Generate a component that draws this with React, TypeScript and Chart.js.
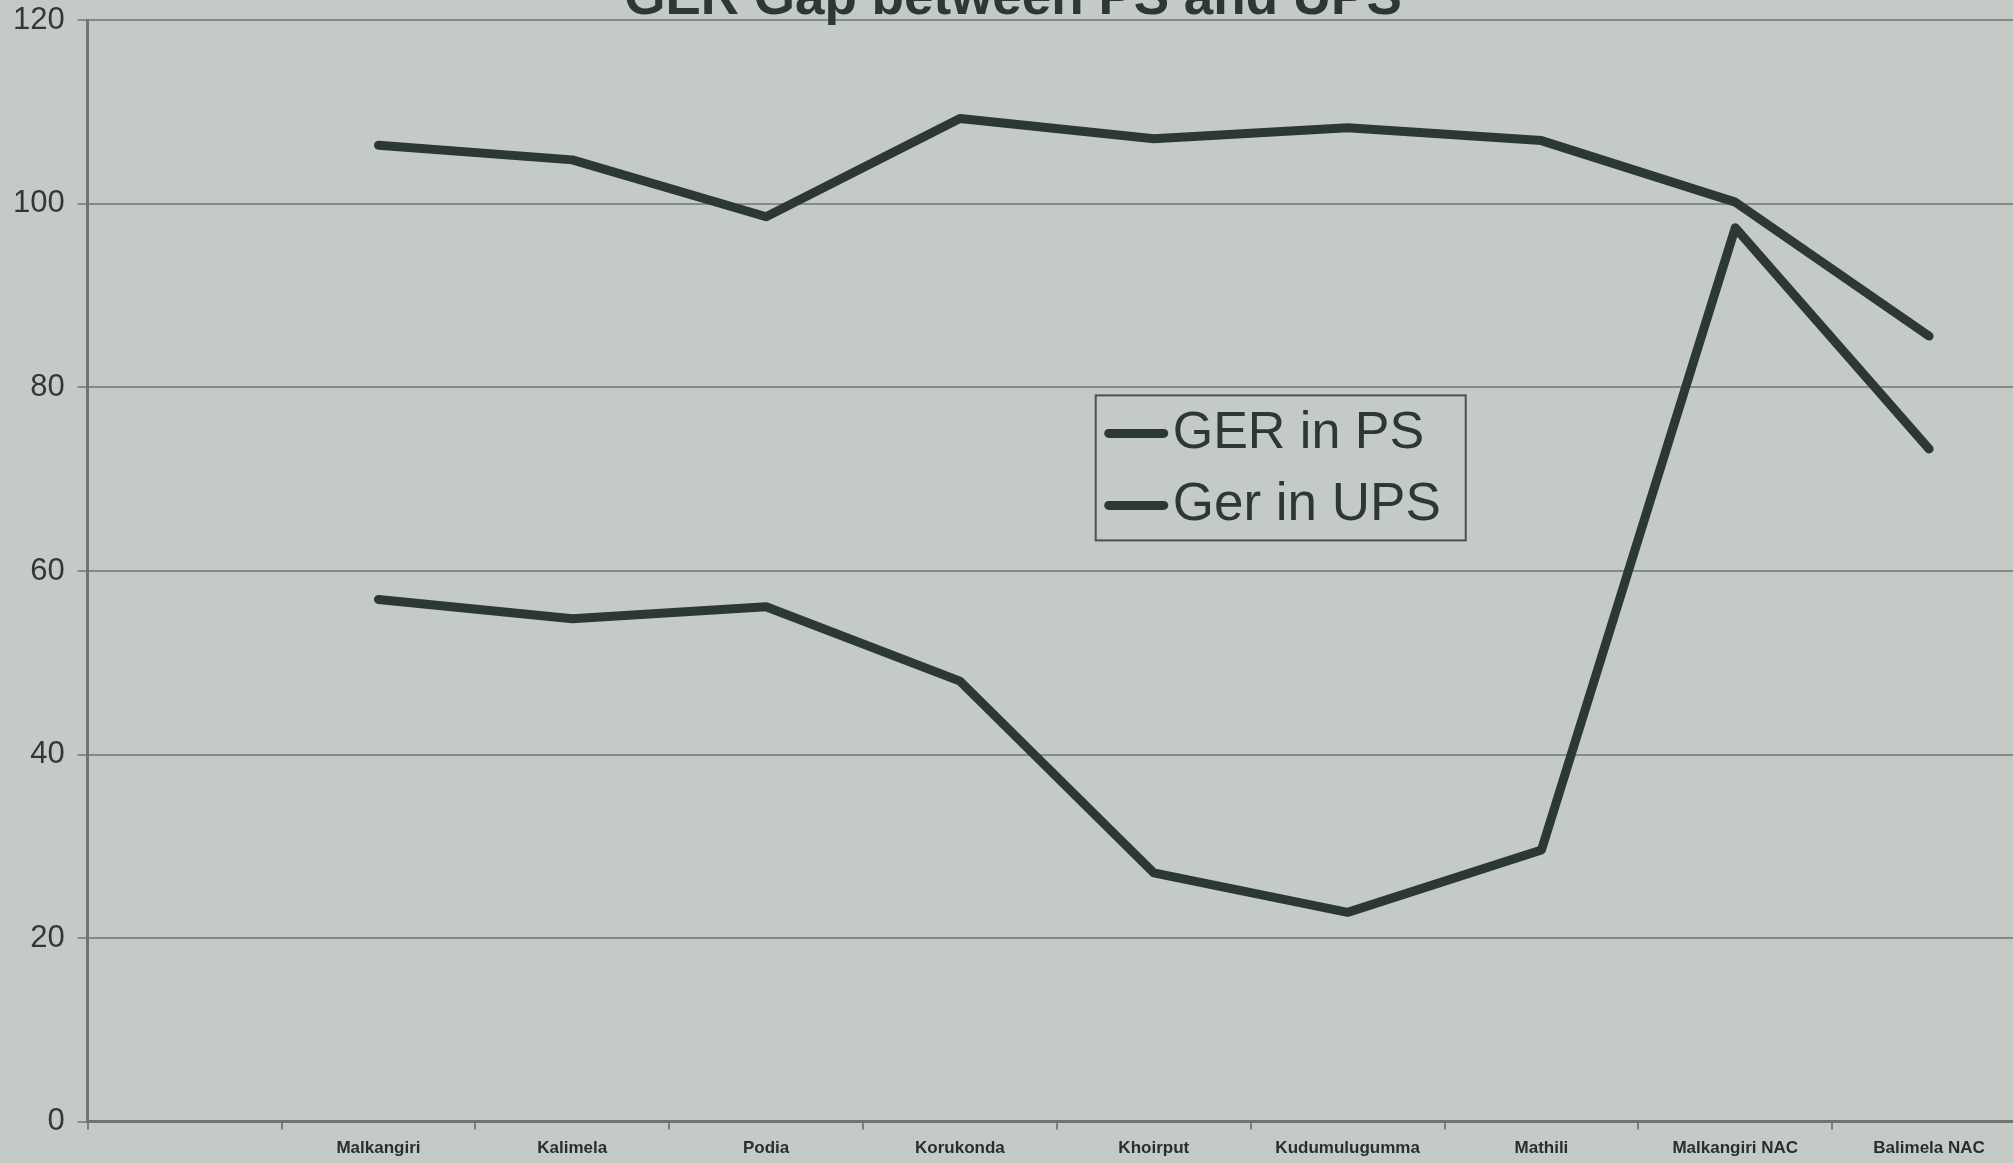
import React, { useEffect, useRef } from "react";
import { Chart, registerables } from "chart.js";

Chart.register(...registerables);

// ---- Data ----
const chartTitle = "GER Gap between PS and UPS";
const categories = [
  "Malkangiri",
  "Kalimela",
  "Podia",
  "Korukonda",
  "Khoirput",
  "Kudumulugumma",
  "Mathili",
  "Malkangiri NAC",
  "Balimela NAC",
];
const gerPSLabel = "GER in PS";
const gerPS = [106.4, 104.8, 98.6, 109.3, 107.1, 108.3, 106.9, 100.2, 85.6];
const gerUPSLabel = "Ger in UPS";
const gerUPS = [56.9, 54.8, 56.1, 48.0, 27.1, 22.8, 29.6, 97.4, 73.3];
const yTicks = [0, 20, 40, 60, 80, 100, 120];

// The original category axis has an empty slot before the first district
const labels = ["", ...categories];
const psData = [null, ...gerPS];
const upsData = [null, ...gerUPS];

const BG = "#c4cac6";
const INK = "#2c3834";
const FONT = "'Liberation Sans', Arial, sans-serif";

const legendBoxPlugin = {
  id: "legendBox",
  afterDatasetsDraw(chart: any) {
    const { ctx, chartArea } = chart;
    const x = chartArea.left + 1008;
    const y = chartArea.top + 375;
    const w = 370;
    const h = 145;
    ctx.save();
    ctx.strokeStyle = "#4a524e";
    ctx.lineWidth = 2;
    ctx.strokeRect(x, y, w, h);
    const rows = [
      { cy: 38, by: 53, size: 52 },
      { cy: 110, by: 125, size: 53 },
    ];
    chart.data.datasets.forEach((ds: any, i: number) => {
      const r = rows[i];
      ctx.strokeStyle = ds.borderColor;
      ctx.lineWidth = 9;
      ctx.lineCap = "round";
      ctx.beginPath();
      ctx.moveTo(x + 13, y + r.cy);
      ctx.lineTo(x + 68, y + r.cy);
      ctx.stroke();
      ctx.fillStyle = INK;
      ctx.font = `${r.size}px ${FONT}`;
      ctx.textBaseline = "alphabetic";
      ctx.textAlign = "left";
      ctx.fillText(ds.label, x + 77, y + r.by);
    });
    ctx.restore();
  },
};

export default function App() {
  const ref = useRef<HTMLCanvasElement | null>(null);

  useEffect(() => {
    if (!ref.current) return;
    const chart = new Chart(ref.current, {
      type: "line",
      data: {
        labels,
        datasets: [
          {
            label: gerPSLabel,
            data: psData,
            borderColor: INK,
            borderWidth: 9,
            borderCapStyle: "round",
            borderJoinStyle: "round",
            pointRadius: 0,
            tension: 0,
            fill: false,
          },
          {
            label: gerUPSLabel,
            data: upsData,
            borderColor: INK,
            borderWidth: 9,
            borderCapStyle: "round",
            borderJoinStyle: "round",
            pointRadius: 0,
            tension: 0,
            fill: false,
          },
        ],
      },
      options: {
        responsive: false,
        animation: false,
        layout: { padding: { left: 0, right: 0, top: 0, bottom: 0 } },
        plugins: {
          legend: { display: false },
          tooltip: { enabled: false },
          title: {
            display: true,
            text: chartTitle,
            color: INK,
            font: { family: FONT, size: 53, weight: "bold", lineHeight: 0.8 },
            padding: { top: 0, bottom: 0 },
          },
        },
        scales: {
          x: {
            type: "category",
            offset: true,
            grid: {
              display: true,
              drawOnChartArea: false,
              drawTicks: true,
              tickLength: 8,
              offset: true,
              color: "#7a807c",
              lineWidth: 2,
            },
            border: { display: true, color: "#6f7571", width: 3 },
            ticks: {
              color: "#2a2f2d",
              font: { family: FONT, size: 17, weight: "bold" },
              padding: 9,
              maxRotation: 0,
              autoSkip: false,
            },
          },
          y: {
            min: 0,
            max: 120,
            afterBuildTicks: (scale: any) => {
              scale.ticks = yTicks.map((v) => ({ value: v }));
            },
            grid: {
              color: "#858b87",
              lineWidth: 2,
              tickLength: 10,
              drawTicks: true,
            },
            border: { display: true, color: "#6f7571", width: 3 },
            ticks: {
              color: "#333836",
              font: { family: FONT, size: 31 },
              padding: 13,
            },
          },
        },
      },
      plugins: [legendBoxPlugin],
    });
    return () => chart.destroy();
  }, []);

  return (
    <div
      style={{
        position: "fixed",
        left: 0,
        top: 0,
        width: 2013,
        height: 1163,
        overflow: "hidden",
        background: BG,
      }}
    >
      <div style={{ position: "absolute", left: 0, top: -22 }}>
        <canvas ref={ref} width={2026} height={1190} style={{ display: "block" }} />
      </div>
    </div>
  );
}
